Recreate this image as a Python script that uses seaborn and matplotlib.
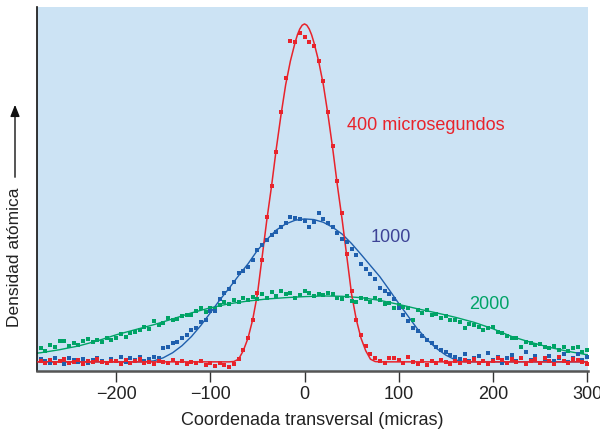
import matplotlib.pyplot as plt
import seaborn as sns
import numpy as np
import pandas as pd

# sample positions of the measured points (micras)
dot_x = np.arange(-280, 301, 5)

red_dots = [
    .004, -.002, .006, -.004, .002, .008, -.003, .001, .005, -.006,
    .003, -.001, .007, .000, -.004, .004, .002, -.005, .006, -.002,
    .003, .009, -.003, .001, -.006, .004, .000, -.003, .005, -.002,
    .003, -.006, .001, -.004, .004, -.008, -.003, -.012, -.004, -.010,
    -.014, -.006,
    .008, .035, .07, .125, .205, .30, .43, .52, .62, .74,
    .84, .95, .946, .972, .962, .945, .935, .89, .83, .74,
    .64, .535, .44, .32, .21, .125, .08, .047, .024, .01,
    .002, -.004, .012, .011, .006, -.003, .014, .001, -.005, .004,
    -.008, .002, -.003, .005, -.001, -.006, .003, -.004, .006, .000,
    .008, -.003, .004, -.007, .002, .010, .005, -.004, .009, .001,
    .012, -.006, .003, .007, -.002, .011, .004, -.005, .015, .002,
    -.003, .008, .006, .001, -.006,
]

blue_dots = [
    .008, .004, -.004, .010, .002, -.006, .012, .005, .000, .009,
    -.003, .006, .011, .002, -.004, .008, .003, .014, .001, .010,
    .006, .013, .004, .009, .015,
    .012, .04, .045, .055, .06, .072, .08, .095, .10, .118,
    .125, .15, .15, .185, .205, .215, .235, .262, .268, .28,
    .30, .33, .345, .36, .375, .385, .40, .41, .43, .425,
    .422, .418, .40, .415, .44, .422, .412, .40, .38, .365,
    .355, .335, .315, .29, .275, .26, .245, .22, .21, .20,
    .185, .158, .138, .12, .10, .09, .078, .065, .055, .045,
    .035, .028, .02,
    .015, .008, .022, .004, .012, .018, .002, .025, .006, .014,
    -.004, .010, .020, .003, .012, .028, .005, .016, -.002, .009,
    .018, .004, .012, .022, .001, .010, .024, .006, .013,
]

green_dots = [
    .04, .032, .05, .045, .062, .063, .048, .055, .05, .062,
    .067, .058, .064, .06, .072, .065, .07, .082, .075, .085,
    .088, .095, .104, .098, .12, .11, .114, .13, .124, .128,
    .135, .14, .139, .15, .16, .148, .158, .155, .168, .178,
    .172, .183, .178, .19, .183, .192, .185, .20, .19, .208,
    .196, .21, .20, .203, .188, .198, .21,
    .205, .196, .20, .197, .205, .20, .19, .185, .195, .18,
    .178, .19, .185, .176, .19, .182, .17, .175, .159, .168,
    .162, .158, .124, .152, .145, .154, .138, .142, .129, .135,
    .125, .124, .118, .10, .112, .108, .104, .095, .10, .104,
    .088, .085, .078, .07, .072, .045, .06, .055, .05, .052,
    .045, .04, .048, .036, .045, .032, .04, .045, .03, .036,
]

# fitted curves
red_line_x = [-290, -80, -75, -70, -65, -60, -55, -50, -45, -40, -35, -30, -25, -20,
              -15, -10, -7.5, -5, -2.5, 0, 2.5, 5, 7.5, 10, 15, 20, 25, 30, 35, 40,
              45, 50, 55, 60, 65, 70, 75, 80, 305]
red_line_y = [0, 0, .001, .008, .033, .07, .125, .20, .31, .42, .52, .63, .73, .82,
              .89, .945, .968, .985, .996, 1.0, .996, .985, .968, .945, .89, .82, .73,
              .63, .52, .42, .31, .20, .125, .07, .033, .008, .001, 0, 0]

blue_line_x = [-290, -170, -160, -150, -140, -130, -120, -110, -100, -90, -80, -70,
               -60, -50, -40, -30, -20, -10, 0, 10, 20, 30, 40, 50, 60, 70, 80, 90,
               100, 110, 120, 130, 140, 150, 160, 170, 305]
blue_line_y = [0, 0, .003, .012, .027, .048, .075, .108, .145, .183, .218, .255,
               .29, .33, .362, .39, .408, .419, .423, .421, .413, .398, .378, .35,
               .318, .285, .252, .213, .173, .135, .097, .066, .04, .02, .006, 0, 0]

green_line_x = [-290, -280, -260, -240, -220, -200, -180, -160, -140, -120, -100,
                -80, -60, -40, -20, 0, 20, 40, 60, 80, 100, 120, 140, 160, 180,
                200, 220, 240, 260, 280, 300, 305]
green_line_y = [.024, .027, .036, .047, .062, .08, .095, .11, .127, .145, .16,
                .172, .18, .186, .19, .193, .195, .194, .19, .182, .17, .157,
                .145, .132, .117, .098, .075, .058, .043, .031, .021, .02]

x_ticks = [-200, -100, 0, 100, 200, 300]

red = '#e8232b'
blue = '#1f5fad'
green = '#00a366'

sns.set_theme(style='ticks')
plt.rcParams['font.family'] = ['Liberation Sans', 'DejaVu Sans']

fig = plt.figure(figsize=(6, 4.38), dpi=100)
ax = fig.add_axes([0.0617, 0.153, 0.9183, 0.831])
ax.set_facecolor('#cce3f4')

sns.lineplot(x=green_line_x, y=green_line_y, color=green, linewidth=1.0, ax=ax, zorder=2)
sns.lineplot(x=blue_line_x, y=blue_line_y, color=blue, linewidth=1.0, ax=ax, zorder=2)
sns.lineplot(x=red_line_x, y=red_line_y, color=red, linewidth=1.1, ax=ax, zorder=3)

sns.scatterplot(x=dot_x, y=green_dots, color=green, marker='s', s=9, linewidth=0, ax=ax, zorder=4)
sns.scatterplot(x=dot_x, y=blue_dots, color=blue, marker='s', s=9, linewidth=0, ax=ax, zorder=4)
sns.scatterplot(x=dot_x, y=red_dots, color=red, marker='s', s=9, linewidth=0, ax=ax, zorder=4)

ax.set_xlim(-284, 301)
ax.set_ylim(-0.027, 1.05)
ax.set_xticks(x_ticks)
ax.set_yticks([])
ax.tick_params(axis='x', direction='out', length=8, width=1, color='#333333',
               labelsize=13, pad=3, labelcolor='#222222')

sns.despine(ax=ax)
ax.spines['left'].set_color('#111111')
ax.spines['left'].set_linewidth(1.2)
ax.spines['bottom'].set_color('#555555')
ax.spines['bottom'].set_linewidth(1.8)

ax.set_xlabel('Coordenada transversal (micras)', fontsize=13, color='#222222', labelpad=6)

ax.text(45, 0.70, '400 microsegundos', color=red, fontsize=13, va='center', ha='left')
ax.text(70, 0.368, '1000', color='#3d4396', fontsize=13, va='center', ha='left')
ax.text(175, 0.17, '2000', color=green, fontsize=13, va='center', ha='left')

fig.text(0.025, 1 - 257 / 438, 'Densidad atómica', rotation=90, ha='center', va='center',
         fontsize=12.5, color='#222222')
fig.patches.append(plt.matplotlib.patches.FancyArrowPatch(
    (0.025, 1 - 180 / 438), (0.025, 1 - 102 / 438), transform=fig.transFigure,
    arrowstyle='-|>,head_length=7,head_width=2.8', color='#111111', linewidth=1.0))

fig.savefig('out.png', dpi=100)
